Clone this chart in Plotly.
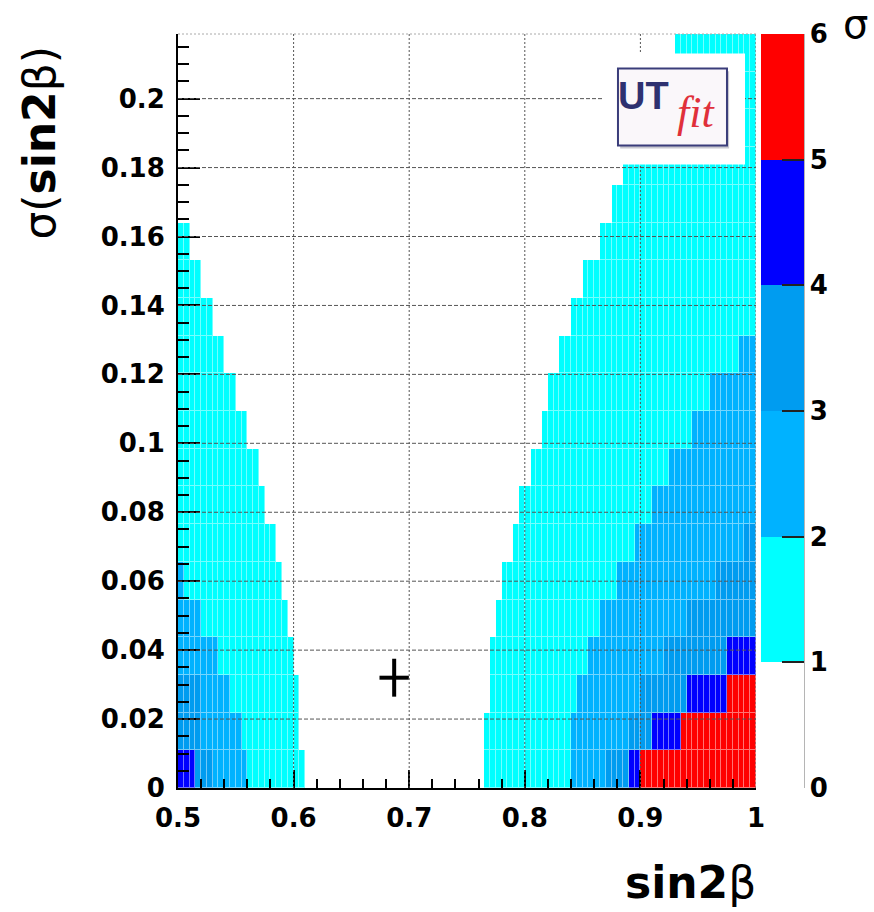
import numpy as np
import plotly.graph_objects as go

# ---- binning of the compatibility map ----
SIN2B_MIN, SIN2B_MAX, N_SIN2B = 0.5, 1.0, 100
SIGMA_MAX, N_SIGMA = 0.21875, 20

# ---- compatibility levels (number of sigma), one entry per sigma(sin2b) row, bottom row first ----
# Low-sin2b side: cells with sin2b below left_k[row] are at >= k sigma
left_1 = [0.610, 0.605, 0.605, 0.600, 0.595, 0.590, 0.585, 0.575, 0.570, 0.560,
          0.550, 0.540, 0.530, 0.520, 0.510]
left_2 = [0.560, 0.555, 0.545, 0.535, 0.520, 0.505]
left_3 = [0.530, 0.520, 0.520]
left_4 = [0.515]
# High-sin2b side: cells with sin2b above right_k[row] are at >= k sigma
right_1 = [0.765, 0.765, 0.770, 0.770, 0.775, 0.780, 0.790, 0.795, 0.805, 0.815,
           0.820, 0.830, 0.840, 0.850, 0.865, 0.875, 0.885, 0.900, 0.915, 0.930]
right_2 = [0.840, 0.840, 0.845, 0.855, 0.865, 0.880, 0.895, 0.910, 0.925, 0.945,
           0.960, 0.985]
right_3 = [0.870, 0.890, 0.900, 0.920, 0.940, 0.965, 0.990]
right_4 = [0.890, 0.910, 0.940, 0.975]
right_5 = [0.900, 0.935, 0.975]

# measured point
meas_sin2b = [0.687]
meas_sigma = [0.032]
meas_err_x = [0.0127]
meas_err_y = [0.0055]

# axis ticks
x_ticks = [0.5, 0.6, 0.7, 0.8, 0.9, 1.0]
x_ticktext = ["0.5", "0.6", "0.7", "0.8", "0.9", "1"]
y_ticks = [0, 0.02, 0.04, 0.06, 0.08, 0.1, 0.12, 0.14, 0.16, 0.18, 0.2]
y_ticktext = ["0", "0.02", "0.04", "0.06", "0.08", "0.1", "0.12", "0.14", "0.16", "0.18", "0.2"]
z_ticks = [0, 1, 2, 3, 4, 5, 6]

# palette per sigma band: 0-1, 1-2, 2-3, 3-4, 4-5, 5-6
band_colors = ["#FFFFFF", "#00FFFF", "#00B2FF", "#009CF0", "#0000FF", "#FF0000"]

# ---- build the level map ----
dx = (SIN2B_MAX - SIN2B_MIN) / N_SIN2B
dy = SIGMA_MAX / N_SIGMA
xc = SIN2B_MIN + dx * (np.arange(N_SIN2B) + 0.5)

def level_map():
    z = np.zeros((N_SIGMA, N_SIN2B))
    lefts = [left_1, left_2, left_3, left_4]
    rights = [right_1, right_2, right_3, right_4, right_5]
    for r in range(N_SIGMA):
        lo = np.zeros(N_SIN2B)
        hi = np.zeros(N_SIN2B)
        for b in lefts:
            if r < len(b):
                lo += xc < b[r]
        for b in rights:
            if r < len(b):
                hi += xc > b[r]
        z[r] = np.maximum(lo, hi) + 0.5
    return z

z = level_map()

n = len(band_colors)
colorscale = []
for i, c in enumerate(band_colors):
    colorscale.append([i / n, c])
    colorscale.append([(i + 1) / n, c])

TICKFONT = dict(family="DejaVu Sans", size=26, color="black", weight="bold")

fig = go.Figure()

# faint tint underneath so the cell borders show as light lines
fig.add_trace(go.Heatmap(
    z=z, x0=xc[0], dx=dx, y0=dy / 2, dy=dy,
    zmin=0, zmax=6, colorscale=colorscale, showscale=False,
    opacity=0.55, hoverinfo="skip",
))
fig.add_trace(go.Heatmap(
    z=z, x0=xc[0], dx=dx, y0=dy / 2, dy=dy,
    zmin=0, zmax=6, colorscale=colorscale, xgap=1, ygap=1,
    colorbar=dict(
        x=1.0087, xanchor="left", y=0.5, yanchor="middle", len=1.0,
        thickness=43, xpad=0, ypad=0, outlinewidth=0,
        tickvals=z_ticks, ticks="inside", ticklen=22, tickwidth=2,
        tickcolor="#222222", tickfont=TICKFONT,
    ),
))

# measured value
fig.add_trace(go.Scatter(
    x=meas_sin2b, y=meas_sigma, mode="markers",
    marker=dict(size=1, color="black", opacity=0),
    error_x=dict(type="data", array=meas_err_x, width=0, thickness=4, color="black"),
    error_y=dict(type="data", array=meas_err_y, width=0, thickness=4, color="black"),
    showlegend=False, hoverinfo="skip",
))

shapes = []
# dotted grid drawn over the map
for xv in x_ticks[1:]:
    shapes.append(dict(type="line", xref="x", yref="paper", x0=xv, x1=xv, y0=0, y1=1,
                       line=dict(color="#555555", width=1, dash="2px,2px"), layer="above"))
for yv in y_ticks[1:]:
    shapes.append(dict(type="line", xref="paper", yref="y", x0=0, x1=1, y0=yv, y1=yv,
                       line=dict(color="#555555", width=1, dash="4px,2px"), layer="above"))
shapes.append(dict(type="line", xref="paper", yref="paper", x0=0, x1=1, y0=1, y1=1,
                   line=dict(color="#AAAAAA", width=1, dash="2px,2px"), layer="above"))

# logo panel
shapes.append(dict(type="rect", xref="paper", yref="paper", x0=0.7336, x1=0.9810, y0=0.8268, y1=0.9741,
                   fillcolor="white", line=dict(width=0), layer="above"))
shapes.append(dict(type="rect", xref="paper", yref="paper", x0=0.7650, x1=0.9535, y0=0.8480, y1=0.9505,
                   fillcolor="#C8C8D0", line=dict(width=0), layer="above"))
shapes.append(dict(type="rect", xref="paper", yref="paper", x0=0.7612, x1=0.9498, y0=0.8520, y1=0.9542,
                   fillcolor="#FAF7FA", line=dict(color="#3A3D7A", width=2), layer="above"))

# palette axis line
shapes.append(dict(type="line", xref="paper", yref="paper", x0=1.0830, x1=1.0830, y0=0, y1=1,
                   line=dict(color="#999999", width=1.5), layer="above"))

annotations = [
    dict(text="UT", xref="paper", yref="paper", x=0.8045, y=0.9184, showarrow=False,
         font=dict(family="Liberation Sans", size=38, color="#2E3170", weight="bold"),
         xanchor="center", yanchor="middle"),
    dict(text="<i>fit</i>", xref="paper", yref="paper", x=0.8960, y=0.8958, showarrow=False,
         font=dict(family="Liberation Serif", size=44, color="#E0303A"),
         xanchor="center", yanchor="middle"),
    dict(text="σ(<b>sin2</b>β)", xref="paper", yref="paper", x=-0.2388, y=0.856, showarrow=False,
         textangle=-90, font=dict(family="DejaVu Sans", size=44, color="black"),
         xanchor="center", yanchor="middle"),
    dict(text="<b>sin2</b>β", xref="paper", yref="paper", x=0.886, y=-0.1248, showarrow=False,
         font=dict(family="DejaVu Sans", size=44, color="black"),
         xanchor="center", yanchor="middle"),
    dict(text="σ", xref="paper", yref="paper", x=1.1713, y=1.0126, showarrow=False,
         font=dict(family="DejaVu Sans", size=40, color="black"),
         xanchor="center", yanchor="middle"),
]

fig.update_layout(
    width=874, height=912,
    margin=dict(l=178, r=118, t=34, b=124),
    paper_bgcolor="white", plot_bgcolor="white",
    showlegend=False,
    shapes=shapes, annotations=annotations,
    xaxis=dict(
        range=[SIN2B_MIN, SIN2B_MAX], tickvals=x_ticks, ticktext=x_ticktext,
        ticks="inside", ticklen=18, tickwidth=1.5, tickcolor="black",
        minor=dict(dtick=0.02, tick0=0.5, ticks="inside", ticklen=9, tickwidth=1.5, tickcolor="black", showgrid=False),
        showgrid=False, zeroline=False, showline=True, linecolor="black", linewidth=2,
        tickfont=TICKFONT, layer="above traces", ticklabelstandoff=6,
    ),
    yaxis=dict(
        range=[0, SIGMA_MAX], tickvals=y_ticks, ticktext=y_ticktext,
        ticks="inside", ticklen=22, tickwidth=1.5, tickcolor="black",
        minor=dict(dtick=0.005, tick0=0, ticks="inside", ticklen=11, tickwidth=1.5, tickcolor="black", showgrid=False),
        showgrid=False, zeroline=False, showline=True, linecolor="black", linewidth=2,
        tickfont=TICKFONT, layer="above traces", ticklabelstandoff=6,
    ),
)

fig.write_html("out.html")
